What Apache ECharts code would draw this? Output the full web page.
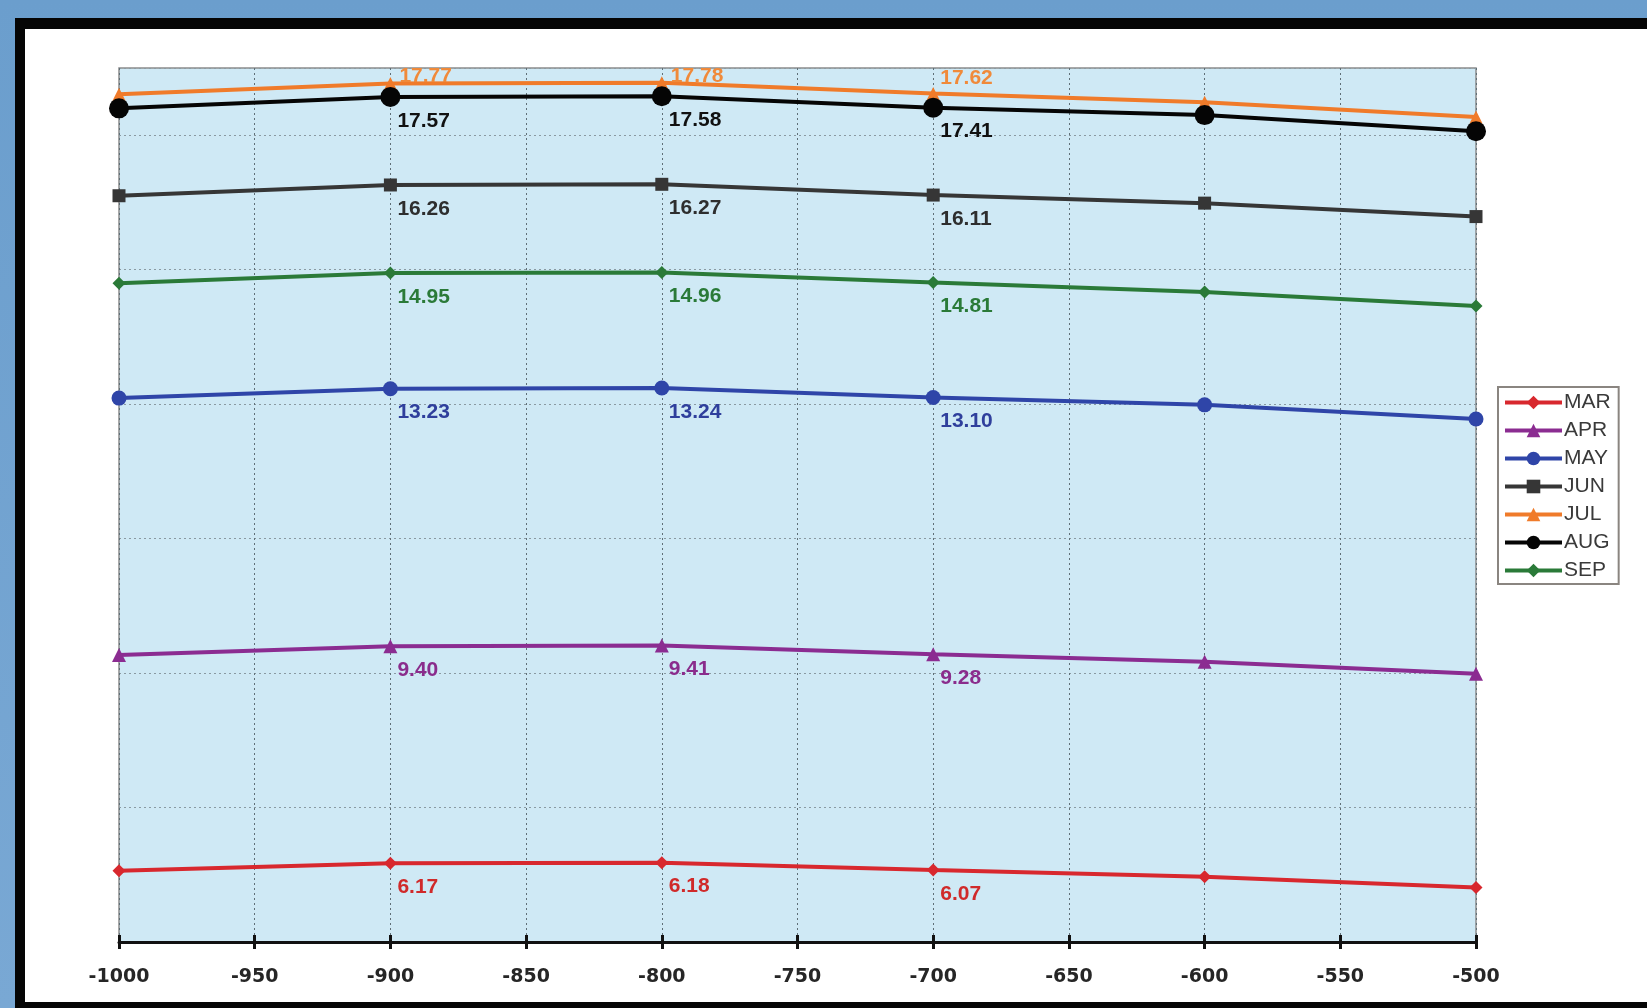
<!DOCTYPE html>
<html>
<head>
<meta charset="utf-8">
<script src="https://cdn.jsdelivr.net/npm/echarts@6/dist/echarts.min.js"></script>
<style>
  html, body { margin: 0; padding: 0; width: 1647px; height: 1008px; overflow: hidden;
    background: linear-gradient(#6b9ecd, #79a8d4); }
  #frame { position: absolute; left: 15px; top: 18px; width: 1700px; height: 973px;
    background: #ffffff; border-left: 10px solid #050505; border-top: 11px solid #050505;
    border-bottom: 7px solid #050505; box-sizing: content-box; }
  #chart { position: absolute; left: 0; top: 0; width: 1647px; height: 1008px; }
</style>
</head>
<body>
<div id="frame"></div>
<div id="chart"></div>
<script>
// ---- data ----
const years = [-1000, -900, -800, -700, -600, -500];
const MAR = [6.06, 6.17, 6.18, 6.07, 5.97, 5.81];
const APR = [9.27, 9.40, 9.41, 9.28, 9.17, 8.99];
const MAY = [13.09, 13.23, 13.24, 13.10, 12.99, 12.78];
const JUN = [16.10, 16.26, 16.27, 16.11, 15.99, 15.79];
const JUL = [17.61, 17.77, 17.78, 17.62, 17.49, 17.27];
const AUG = [17.40, 17.57, 17.58, 17.41, 17.30, 17.06];
const SEP = [14.80, 14.95, 14.96, 14.81, 14.67, 14.46];
const seriesNames = ['MAR', 'APR', 'MAY', 'JUN', 'JUL', 'AUG', 'SEP'];
const labeledIdx = [1, 2, 3];
const xMin = -1000, xMax = -500, xStep = 50;
const yMin = 5, yMax = 18, yStep = 2;

// ---- styles ----
const styles = {
  MAR: { color: '#d8282e', symbol: 'diamond', size: 13, labelColor: '#d02a2a' },
  APR: { color: '#8b2c91', symbol: 'triangle', size: 14, labelColor: '#8a2c8c' },
  MAY: { color: '#2f45a8', symbol: 'circle', size: 15, labelColor: '#2f3f9c' },
  JUN: { color: '#363636', symbol: 'rect', size: 13, labelColor: '#2e2e2e' },
  JUL: { color: '#f07b2a', symbol: 'triangle', size: 13, labelColor: '#f08a3a' },
  AUG: { color: '#050505', symbol: 'circle', size: 20, labelColor: '#111111' },
  SEP: { color: '#2a7a38', symbol: 'diamond', size: 13, labelColor: '#2a7a38' }
};
const valuesByName = { MAR, APR, MAY, JUN, JUL, AUG, SEP };

function buildSeries(name) {
  const st = styles[name];
  const vals = valuesByName[name];
  return {
    name: name,
    type: 'line',
    symbol: st.symbol,
    symbolSize: st.size,
    lineStyle: { color: st.color, width: 4 },
    itemStyle: { color: st.color },
    z: 3,
    label: {
      show: false,
      position: 'inside',
      align: 'left',
      verticalAlign: 'middle',
      fontFamily: 'Liberation Sans, Arial, sans-serif',
      fontWeight: 'bold',
      fontSize: 21,
      color: st.labelColor,
      formatter: p => p.value[1].toFixed(2)
    },
    data: years.map((x, i) => {
      const item = { value: [x, vals[i]] };
      if (labeledIdx.includes(i)) {
        let off = [7, 24];
        if (name === 'JUL') off = (i === 3) ? [7, -15] : [9, -7];
        item.label = { show: true, offset: off };
      }
      return item;
    })
  };
}

const chart = echarts.init(document.getElementById('chart'), null, { renderer: 'canvas' });
chart.setOption({
  animation: false,
  backgroundColor: 'transparent',
  grid: {
    left: 119, right: 171, top: 68, bottom: 66,
    show: true, backgroundColor: '#cfe9f5', borderColor: '#8c8c8c', borderWidth: 1.5
  },
  legend: {
    data: seriesNames,
    orient: 'vertical',
    left: 1498, top: 387,
    itemWidth: 57, itemHeight: 17, itemGap: 7,
    padding: [5, 8, 3, 5],
    borderColor: '#8a8580', borderWidth: 2,
    backgroundColor: '#ffffff',
    lineStyle: { width: 4 },
    textStyle: { fontFamily: 'Liberation Sans, Arial, sans-serif', fontSize: 21, lineHeight: 21, color: '#3a3a3a', padding: [0, 0, 0, -3] }
  },
  xAxis: [{
    type: 'value', min: xMin, max: xMax, interval: xStep,
    axisLine: { show: true, onZero: false, lineStyle: { color: '#111', width: 3 } },
    axisTick: { show: true, length: 7, lineStyle: { color: '#111', width: 3 } },
    axisLabel: { fontFamily: 'DejaVu Sans', fontWeight: 'bold', fontSize: 19, color: '#262626', margin: 26,
      formatter: v => String(v) },
    splitLine: { show: true, lineStyle: { color: '#5f6f77', width: 1, type: [2, 3] } }
  }, {
    type: 'value', min: xMin, max: xMax, interval: xStep, position: 'bottom',
    axisLine: { show: false },
    axisTick: { show: true, inside: true, length: 7, lineStyle: { color: '#111', width: 3 } },
    axisLabel: { show: false },
    splitLine: { show: false }
  }],
  yAxis: {
    type: 'value', min: yMin, max: yMax, interval: yStep,
    axisLine: { show: false }, axisTick: { show: false }, axisLabel: { show: false },
    splitLine: { show: true, lineStyle: { color: '#8a9aa2', width: 1, type: [2, 3] } }
  },
  series: seriesNames.map(buildSeries)
});
</script>
</body>
</html>
